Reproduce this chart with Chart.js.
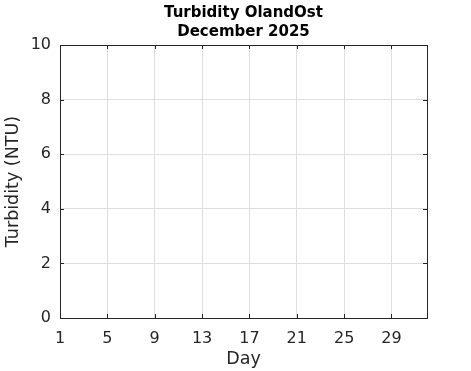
<!DOCTYPE html>
<html>
<head>
<meta charset="utf-8">
<script src="https://cdn.jsdelivr.net/npm/chart.js@4.4.1/dist/chart.umd.min.js"></script>
<style>
  body { margin: 0; background: #ffffff; }
  canvas { display: block; }
</style>
</head>
<body>
<canvas id="turbidityChart" width="471" height="371"></canvas>
<script>
// No measurements in the month yet, so the series is empty
const days = [];
const turbidity = [];

const xTicks = [1, 5, 9, 13, 17, 21, 25, 29];
const yTicks = [0, 2, 4, 6, 8, 10];

const axisColor = '#262626';
const gridColor = '#dfdfdf';

// MATLAB style box round the plot with small inward tick marks
const boxPlugin = {
    id: 'box',
    afterDraw(chart) {
        const ctx = chart.ctx;
        const area = chart.chartArea;
        const x = chart.scales.x;
        const y = chart.scales.y;
        ctx.save();
        ctx.strokeStyle = axisColor;
        ctx.lineWidth = 1;
        ctx.beginPath();
        xTicks.forEach(v => {
            const px = Math.round(x.getPixelForValue(v)) + 0.5;
            ctx.moveTo(px, area.bottom);
            ctx.lineTo(px, area.bottom - 4);
            ctx.moveTo(px, area.top);
            ctx.lineTo(px, area.top + 4);
        });
        yTicks.forEach(v => {
            const py = Math.round(y.getPixelForValue(v)) + 0.5;
            ctx.moveTo(area.left, py);
            ctx.lineTo(area.left + 4, py);
            ctx.moveTo(area.right, py);
            ctx.lineTo(area.right - 4, py);
        });
        ctx.stroke();
        ctx.strokeRect(Math.round(area.left) + 0.5, Math.round(area.top) + 0.5,
            Math.round(area.right - area.left), Math.round(area.bottom - area.top));
        ctx.restore();
    }
};

const ctx = document.getElementById('turbidityChart').getContext('2d');
const myChart = new Chart(ctx, {
    type: 'line',
    data: {
        datasets: [
            {
                label: 'Turbidity',
                data: days.map((d, i) => ({ x: d, y: turbidity[i] })),
                borderColor: '#0072bd',
                borderWidth: 1,
                pointRadius: 0
            }
        ]
    },
    options: {
        responsive: false,
        animation: false,
        layout: {
            padding: { left: 0, right: 44, top: 0, bottom: 0 }
        },
        scales: {
            x: {
                type: 'linear',
                min: 1,
                max: 32,
                afterBuildTicks: scale => {
                    scale.ticks = xTicks.map(v => ({ value: v }));
                },
                afterFit: scale => {
                    scale.height = 53;
                },
                grid: {
                    color: gridColor,
                    drawTicks: false
                },
                border: { display: false },
                ticks: {
                    color: axisColor,
                    padding: 11,
                    maxRotation: 0,
                    autoSkip: false,
                    font: { family: 'DejaVu Sans', size: 16 }
                },
                title: {
                    display: true,
                    text: 'Day',
                    color: axisColor,
                    padding: { top: 0, bottom: 1 },
                    font: { family: 'DejaVu Sans', size: 17.5 }
                }
            },
            y: {
                min: 0,
                max: 10,
                afterBuildTicks: scale => {
                    scale.ticks = yTicks.map(v => ({ value: v }));
                },
                afterFit: scale => {
                    scale.width = 60;
                },
                grid: {
                    color: gridColor,
                    drawTicks: false
                },
                border: { display: false },
                ticks: {
                    color: axisColor,
                    padding: 9,
                    font: { family: 'DejaVu Sans', size: 16 }
                },
                title: {
                    display: true,
                    text: 'Turbidity (NTU)',
                    color: axisColor,
                    padding: { top: 3, bottom: 0 },
                    font: { family: 'DejaVu Sans', size: 17.5 }
                }
            }
        },
        plugins: {
            legend: { display: false },
            tooltip: { enabled: false },
            title: {
                display: true,
                fullSize: false,
                text: ['Turbidity OlandOst', 'December 2025'],
                color: '#000000',
                padding: { top: 4, bottom: 3 },
                font: { family: 'DejaVu Sans', size: 15, weight: 'bold', lineHeight: 1.27 }
            }
        }
    },
    plugins: [boxPlugin]
});
</script>
</body>
</html>
